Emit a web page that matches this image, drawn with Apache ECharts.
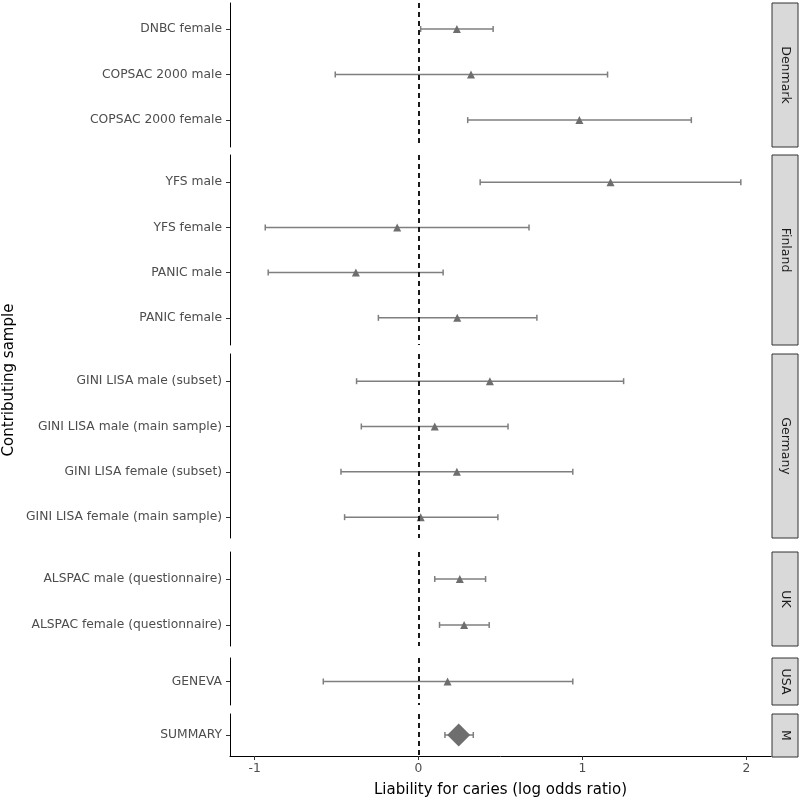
<!DOCTYPE html>
<html>
<head>
<meta charset="utf-8">
<script src="https://cdn.jsdelivr.net/npm/echarts@6/dist/echarts.min.js"></script>
<style>
html,body{margin:0;padding:0;background:#fff;}
#chart{width:800px;height:799px;}
</style>
</head>
<body>
<div id="chart"></div>
<script>
// ---- data ----
const samples = [
  'DNBC female', 'COPSAC 2000 male', 'COPSAC 2000 female',
  'YFS male', 'YFS female', 'PANIC male', 'PANIC female',
  'GINI LISA male (subset)', 'GINI LISA male (main sample)', 'GINI LISA female (subset)', 'GINI LISA female (main sample)',
  'ALSPAC male (questionnaire)', 'ALSPAC female (questionnaire)',
  'GENEVA',
  'SUMMARY'
];
const countries = [
  'Denmark', 'Denmark', 'Denmark',
  'Finland', 'Finland', 'Finland', 'Finland',
  'Germany', 'Germany', 'Germany', 'Germany',
  'UK', 'UK',
  'USA',
  'M'
];
const estimates = [0.234, 0.320, 0.981, 1.171, -0.130, -0.382, 0.236, 0.435, 0.099, 0.234, 0.013, 0.252, 0.278, 0.177, 0.245];
const lowerCI   = [0.013, -0.508, 0.300, 0.376, -0.935, -0.917, -0.245, -0.378, -0.349, -0.473, -0.451, 0.099, 0.128, -0.581, 0.161];
const upperCI   = [0.455, 1.153, 1.664, 1.966, 0.674, 0.150, 0.722, 1.251, 0.546, 0.941, 0.484, 0.409, 0.431, 0.941, 0.334];
const facets = ['Denmark', 'Finland', 'Germany', 'UK', 'USA', 'M'];
const xTicks = [-1, 0, 1, 2];
const refLine = 0;

// ---- layout ----
const panelTop =    [3, 155, 354, 552, 658, 714];
const panelHeight = [144, 190, 184, 94, 47, 43];
const yMinExp = [-0.57, -0.60, -0.60, -0.59, -0.5, -0.5];   // axis range padding (rows)
const yMaxExp = [0.59, 0.60, 0.46, 0.46, 0.5, 0.5];
const gridLeft = 230, gridWidth = 541;
const stripX = 772, stripW = 26;
const FONT = 'DejaVu Sans';

const grids = [], xAxes = [], yAxes = [], series = [], graphics = [];

facets.forEach((f, i) => {
  const idx = [];
  countries.forEach((c, k) => { if (c === f) idx.push(k); });
  const cats = idx.map(k => samples[k]);
  const pos = cats.map((_, j) => j);
  const last = i === facets.length - 1;
  grids.push({left: gridLeft, width: gridWidth, top: panelTop[i], height: panelHeight[i]});
  xAxes.push({
    type: 'value', gridIndex: i, min: -1.15, max: 2.15,
    splitLine: {show: false},
    axisLine: {show: last, onZero: false, lineStyle: {color: '#000', width: 1}},
    axisTick: {show: last, length: 4, lineStyle: {color: '#333'}, customValues: xTicks},
    axisLabel: {show: last, color: '#4D4D4D', fontSize: 12.3, fontFamily: FONT, margin: 7, customValues: xTicks},
    name: last ? 'Liability for caries (log odds ratio)' : '',
    nameLocation: 'middle', nameGap: 27,
    nameTextStyle: {color: '#000', fontSize: 15, fontFamily: FONT}
  });
  yAxes.push({
    type: 'value', gridIndex: i, inverse: true,
    min: yMinExp[i], max: cats.length - 1 + yMaxExp[i],
    axisLine: {show: true, onZero: false, lineStyle: {color: '#000', width: 1}},
    axisTick: {show: true, length: 4, lineStyle: {color: '#333'}, customValues: pos},
    axisLabel: {color: '#4D4D4D', fontSize: 12.3, fontFamily: FONT, margin: 8, customValues: pos,
      formatter: v => cats[Math.round(v)]},
    splitLine: {show: false}
  });
  series.push({
    type: 'custom', xAxisIndex: i, yAxisIndex: i,
    encode: {x: [0, 1], y: 2},
    data: idx.map((k, j) => [lowerCI[k], upperCI[k], j]),
    renderItem: function (params, api) {
      const p1 = api.coord([api.value(0), api.value(2)]);
      const p2 = api.coord([api.value(1), api.value(2)]);
      const y = p1[1], c = 3;
      const st = {stroke: '#7F7F7F', lineWidth: 1.5};
      return {type: 'group', children: [
        {type: 'line', shape: {x1: p1[0], y1: y, x2: p2[0], y2: y}, style: st},
        {type: 'line', shape: {x1: p1[0], y1: y - c, x2: p1[0], y2: y + c}, style: st},
        {type: 'line', shape: {x1: p2[0], y1: y - c, x2: p2[0], y2: y + c}, style: st}
      ]};
    },
    silent: true, z: 2
  });
  series.push({
    type: 'scatter', xAxisIndex: i, yAxisIndex: i,
    data: idx.map((k, j) => [estimates[k], j]),
    symbol: f === 'M' ? 'diamond' : 'triangle',
    symbolSize: f === 'M' ? 23 : 8,
    itemStyle: {color: '#6E6E6E', opacity: 1},
    silent: true, z: 3,
    markLine: {
      silent: true, symbol: 'none', label: {show: false}, animation: false,
      lineStyle: {color: '#1A1A1A', width: 2, type: [5, 4]},
      data: [{xAxis: refLine}]
    }
  });
  graphics.push({
    type: 'rect', shape: {x: stripX, y: panelTop[i], width: stripW, height: panelHeight[i]},
    style: {fill: '#D9D9D9', stroke: '#333333', lineWidth: 1}
  });
  graphics.push({
    type: 'text', x: stripX + stripW / 2, y: panelTop[i] + panelHeight[i] / 2,
    rotation: -Math.PI / 2,
    style: {text: f, fill: '#1A1A1A', font: '12.5px "' + FONT + '"', align: 'center', verticalAlign: 'middle'}
  });
});

graphics.push({
  type: 'text', x: 9, y: 380, rotation: Math.PI / 2,
  style: {text: 'Contributing sample', fill: '#000', font: '15px "' + FONT + '"', align: 'center', verticalAlign: 'middle'}
});

const chart = echarts.init(document.getElementById('chart'), null, {renderer: 'canvas'});
chart.setOption({
  backgroundColor: '#fff',
  animation: false,
  grid: grids, xAxis: xAxes, yAxis: yAxes, series: series, graphic: graphics
});
</script>
</body>
</html>
